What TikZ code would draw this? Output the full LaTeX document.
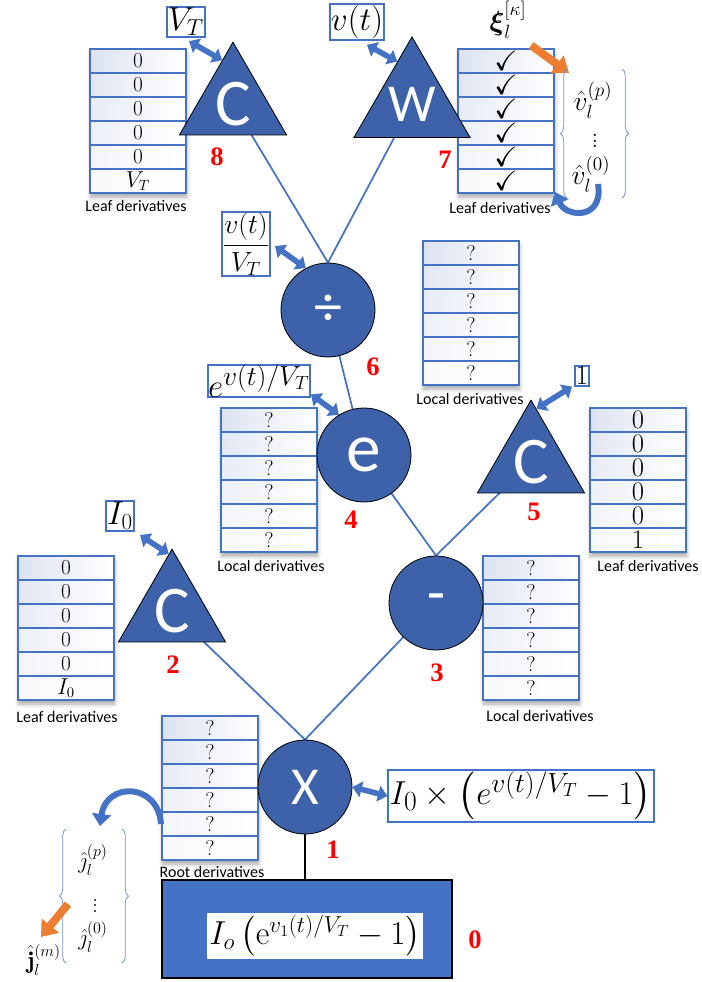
\documentclass[tikz,border=0pt]{standalone}
\usepackage{amsmath,amssymb}
\usepackage{fontspec}
\newfontfamily\calib{Carlito}
\newfontfamily\tnr{Liberation Serif}
\usetikzlibrary{shapes.geometric,arrows.meta,decorations.pathreplacing,shadows.blur,backgrounds,calc}

\definecolor{nodeblue}{HTML}{3D62AA}
\definecolor{lineblue}{HTML}{4472C4}
\definecolor{tint}{HTML}{DCE2F0}
\definecolor{orng}{HTML}{ED7D31}
\definecolor{outblue}{HTML}{4472C4}

\tikzset{
  trinode/.style={regular polygon, regular polygon sides=3, minimum size=81.4pt,
    inner sep=0pt, fill=nodeblue, draw=black, line width=0.6pt, text=white},
  opnode/.style={circle, minimum size=70.5pt, inner sep=0pt, fill=nodeblue,
    draw=black, line width=0.6pt, text=white},
  treeline/.style={lineblue, line width=1.3pt},
  vbox/.style={draw=lineblue, line width=1.5pt, inner sep=1pt, fill=white},
  dlink/.style={lineblue, line width=4.2pt,
    {Triangle[length=7pt,width=12pt]}-{Triangle[length=7pt,width=12pt]}},
  orangearrow/.style={orng, line width=6pt, -{Triangle[length=11pt,width=16pt]}},
  curvearrow/.style={lineblue, line width=4.5pt, -{Triangle[length=9pt,width=14pt]}},
  idx/.style={text=red, font=\tnr\bfseries\fontsize{20}{22}\selectfont},
  capt/.style={font=\calib\fontsize{12}{14}\selectfont},
  cellfont/.style={font=\fontsize{16}{17}\selectfont},
  bigcellfont/.style={font=\fontsize{20}{21}\selectfont},
  checkfont/.style={font=\fontsize{21}{22}\selectfont},
  tableback/.style={fill=white, minimum width=72pt, minimum height=108pt, inner sep=0pt,
    blur shadow={shadow xshift=0.5pt, shadow yshift=-3pt, shadow blur radius=3pt, shadow opacity=35}},
  cell/.style={draw=lineblue, line width=1.5pt, minimum width=72pt, minimum height=18pt, inner sep=0pt},
  bracket/.style={draw=lineblue!75, line width=0.6pt, decorate, decoration={brace, amplitude=5pt}},
  labmath/.style={font=\fontsize{25}{30}\selectfont},
  vecentry/.style={inner sep=0pt, font=\fontsize{20}{24}\selectfont},
  jentry/.style={inner sep=0pt, font=\fontsize{18}{22}\selectfont},
}

% six-row derivative table: [cell font] {name}{centre x}{top y}{values}
\newcommand\dertable[5][cellfont]{%
  \node[tableback] (#2) at (#3,{#4+72}) {};
  \foreach \val [count=\i] in {#5} {%
    \pgfmathtruncatemacro\pct{100-16*(\i-1)}%
    \node[cell,#1,left color=tint!\pct!white,right color=white] (#2-\i) at (#3,{#4+12+24*(\i-1)}) {\val};
  }%
}

\begin{document}
\begin{tikzpicture}[x=0.75pt,y=-0.75pt]
\useasboundingbox (0,0) rectangle (702,982);

% ---- derivative tables ----
\dertable{t8}{138}{49}{0,0,0,0,0,$V_T$}
\node[capt] (t8-cap) at (136,206) {Leaf derivatives};
\dertable[checkfont]{t7}{506}{49}{$\checkmark$,$\checkmark$,$\checkmark$,$\checkmark$,$\checkmark$,$\checkmark$}
\node[capt] (t7-cap) at (500,208) {Leaf derivatives};
\dertable{t6}{471}{241}{?,?,?,?,?,?}
\node[capt] (t6-cap) at (470,399) {Local derivatives};
\dertable{t4}{269}{408}{?,?,?,?,?,?}
\node[capt] (t4-cap) at (271,566) {Local derivatives};
\dertable[bigcellfont]{t5}{638}{408}{0,0,0,0,0,1}
\node[capt] (t5-cap) at (648,566) {Leaf derivatives};
\dertable{t2}{66}{556}{0,0,0,0,0,$I_0$}
\node[capt] (t2-cap) at (67,717) {Leaf derivatives};
\dertable{t3}{531}{556}{?,?,?,?,?,?}
\node[capt] (t3-cap) at (540,716) {Local derivatives};
\dertable{tr}{210}{716}{?,?,?,?,?,?}
\node[capt] (tr-cap) at (212,872) {Root derivatives};

% ---- expression tree nodes ----
\node[trinode, font=\calib\fontsize{50}{52}\selectfont] (c8) at (233,104) {C};
\node[trinode, font=\calib\fontsize{40}{44}\selectfont] (w7) at (412,104) {W};
\node[opnode, font=\calib\fontsize{42}{44}\selectfont] (div) at (328,310) {÷};
\node[opnode, font=\calib\fontsize{52}{54}\selectfont] (ex) at (364,455) {e};
\node[trinode, font=\calib\fontsize{50}{52}\selectfont] (c5) at (531,462) {C};
\node[opnode, font=\calib\fontsize{44}{46}\selectfont] (mn) at (436,603) {-};
\node[trinode, font=\calib\fontsize{50}{52}\selectfont] (c2) at (172,611) {C};
\node[opnode, font=\calib\fontsize{40}{44}\selectfont] (mul) at (305,787) {X};

\node[draw=black, line width=0.8pt, fill=outblue, minimum width=217.5pt, minimum height=73.5pt] (out) at (307,929) {};
\node[fill=white, inner sep=2pt, font=\fontsize{25}{30}\selectfont] (outf) at (315,936)
  {$I_o\left(\mathrm{e}^{v_1(t)/V_T}-1\right)$};

% ---- node indices ----
\node[idx] (i8) at (217,157) {8};
\node[idx] (i7) at (445,160) {7};
\node[idx] (i6) at (373,367) {6};
\node[idx] (i4) at (351,520) {4};
\node[idx] (i5) at (534,512) {5};
\node[idx] (i2) at (173,665) {2};
\node[idx] (i3) at (437,673) {3};
\node[idx] (i1) at (333,850) {1};
\node[idx] (i0) at (475,940) {0};

% ---- value boxes ----
\node[vbox, font=\fontsize{24}{28}\selectfont] (lvt) at (186,22) {$V_T$};
\node[vbox, labmath] (lv) at (357,22) {$v(t)$};
\node[vbox, font=\fontsize{22}{26}\selectfont, inner sep=0.5pt] (lfrac) at (246,244) {$\displaystyle\frac{v(t)}{V_T}$};
\node[vbox, font=\fontsize{28}{32}\selectfont, inner sep=0pt] (lexp) at (259,381) {$e^{v(t)/V_T}$};
\node[vbox, labmath] (li0) at (120,516) {$I_0$};
\node[vbox, font=\fontsize{22}{26}\selectfont, inner sep=0.5pt] (lone) at (582,376) {$1$};
\node[vbox, font=\fontsize{30}{34}\selectfont] (long) at (521,796) {$I_0\times\left(e^{v(t)/V_T}-1\right)$};

% ---- value links ----
\draw[dlink] ($(lvt.south)+(3,3)$) -- ($(c8.corner 1)!0.2!(c8.corner 2)$);
\draw[dlink] ($(lv.south)+(10,4)$) -- ($(w7.corner 1)!0.25!(w7.corner 2)$);
\draw[dlink] ($(lfrac.east)+(4,2)$) -- (div.118);
\draw[dlink] ($(lexp.south east)+(0,-4)$) -- (ex.122);
\draw[dlink] ($(li0.south east)+(5,3)$) -- ($(c2.corner 1)!0.06!(c2.corner 2)$);
\draw[dlink] ($(lone.south west)+(-2,0)$) -- ($(c5.corner 1)!0.1!(c5.corner 3)$);
\draw[dlink] (mul.east) -- (long.west);

% ---- tree connectors ----
\begin{scope}[on background layer]
  \draw[treeline] (c8.center) -- (div.north);
  \draw[treeline] (w7.center) -- (div.north);
  \draw[treeline] (div.center) -- (ex.center);
  \draw[treeline] (ex.center) -- (mn.north);
  \draw[treeline] (c5.center) -- (mn.north);
  \draw[treeline] (mn.center) -- (mul.north);
  \draw[treeline] (c2.center) -- (mul.north);
  \draw[black, line width=0.8pt] (mul.south) -- (mul.south |- out.north);
\end{scope}

% ---- seed vector and its components ----
\node[font=\fontsize{22}{26}\selectfont] (xi) at (508,20) {$\boldsymbol{\xi}_l^{[\kappa]}$};
\coordinate (xitip) at (569,73);
\draw[orangearrow] ($(xi.south east)+(0,2)$) -- (xitip);

\draw[bracket] (567,198) -- (567,69);
\draw[bracket] (622,69) -- (622,198);
\node[vecentry] (vp) at (593,100) {$\hat v_l^{(p)}$};
\node[vecentry] (vd) at (595,137) {$\vdots$};
\node[vecentry] (v0) at (591,174) {$\hat v_l^{(0)}$};
\coordinate (vs) at (598,184);
\draw[curvearrow] (vs) .. controls (604,220) and (566,218) .. ($(t7-6.south east)+(0,-2)$);

% ---- root derivative components ----
\coordinate (jtip) at (100,826);
\draw[curvearrow] (tr-5.west) .. controls (158,782) and (106,782) .. (jtip);
\draw[bracket] (66,963) -- (66,829);
\draw[bracket] (122,829) -- (122,963);
\node[jentry] (jp) at (93,860) {$\hat{\jmath}_l^{(p)}$};
\node[jentry] (jd) at (95,902) {$\vdots$};
\node[jentry] (j0) at (93,937) {$\hat{\jmath}_l^{(0)}$};
\node[jentry] (jm) at (44,960) {$\hat{\mathbf{j}}_l^{(m)}$};
\coordinate (jo) at (68,904);
\coordinate (jotip) at (41,937);
\draw[orangearrow] (jo) -- (jotip);

\end{tikzpicture}
\end{document}
